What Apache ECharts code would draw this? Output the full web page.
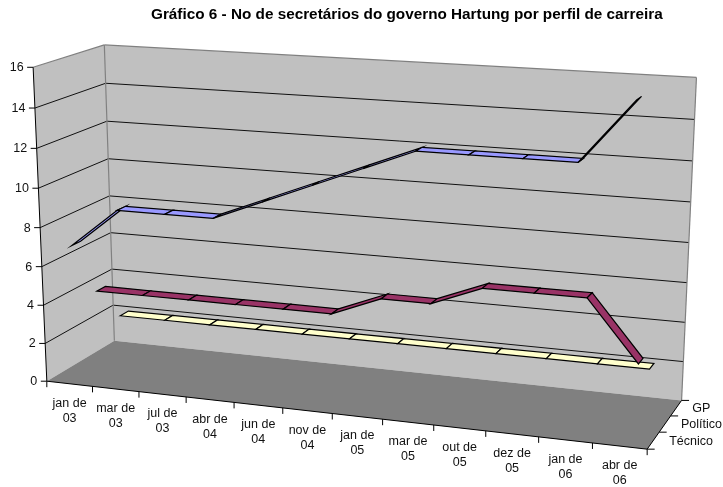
<!DOCTYPE html>
<html><head><meta charset="utf-8">
<style>html,body{margin:0;padding:0;background:#fff}#c{width:723px;height:487px}</style>
<script src="https://cdn.jsdelivr.net/npm/echarts@6/dist/echarts.min.js"></script>
</head><body><div id="c"></div>
<script>
const categories = ['jan de\n03','mar de\n03','jul de\n03','abr de\n04','jun de\n04','nov de\n04','jan de\n05','mar de\n05','out de\n05','dez de\n05','jan de\n06','abr de\n06'];
const depthLabels = ['Técnico','Político','GP'];
const valueTicks = [0,2,4,6,8,10,12,14,16];
const gp      = [7,9,9,9,10,11,12,13,13,13,13,16];
const politico= [4,4,4,4,4,4,5,5,6,6,6,3];
const tecnico = [2,2,2,2,2,2,2,2,2,2,2,2];
const titleText = 'Gráfico 6 - No de secretários do governo Hartung por perfil de carreira';

const FONT = '"Liberation Sans", Arial, sans-serif';
const W = 723, H = 487;
// camera calibration: (u,v,w) box corners -> picture position
const calib = [
 [0,0,0,47,381.5],[0,1,0,33,67],[0,0,1,114,341],[0,1,1,104,45],
 [1,0,0,647.3,449.3],[1,0,1,682,400],[1,1,1,696.7,77.7],
 [0,.5,0,40.5,227.7],[0,.5,1,110,195.7],[1,.5,1,688.3,242.7],[.5,0,0,331.7,413.3]
];
function solveCamera(){
  const A=[],b=[];
  calib.forEach(([u,v,w,x,y])=>{
    A.push([u,v,w,1,0,0,0,0,-x*u,-x*v,-x*w]);b.push(x);
    A.push([0,0,0,0,u,v,w,1,-y*u,-y*v,-y*w]);b.push(y);
  });
  const n=11,M=[];
  for(let i=0;i<n;i++){M.push([]);for(let j=0;j<=n;j++){let s=0;for(let r=0;r<A.length;r++)s+=A[r][i]*(j<n?A[r][j]:b[r]);M[i].push(s);}}
  for(let i=0;i<n;i++){
    let p=i;for(let r=i+1;r<n;r++)if(Math.abs(M[r][i])>Math.abs(M[p][i]))p=r;
    [M[i],M[p]]=[M[p],M[i]];
    for(let r=0;r<n;r++){if(r===i)continue;const f=M[r][i]/M[i][i];for(let c=i;c<=n;c++)M[r][c]-=f*M[i][c];}
  }
  return M.map((r,i)=>r[n]/r[i]);
}
const K = solveCamera();
function cam(u,v,w){
  const d=K[8]*u+K[9]*v+K[10]*w+1;
  return [(K[0]*u+K[1]*v+K[2]*w+K[3])/d,(K[4]*u+K[5]*v+K[6]*w+K[7])/d];
}
// category position + value through the chart's scales, depth in 0..1
function P(api,cat,val,w){
  const base=api.coord([0,val]);
  const band=api.size([1,0])[0];
  const u=(base[0]+cat*band)/W, v=1-base[1]/H;
  return cam(u,v,w);
}
const X0=-0.5,X1=categories.length-0.5,VMAX=valueTicks[valueTicks.length-1];
const poly=(pts,fill,stroke,lw)=>({type:'polygon',shape:{points:pts},style:{fill:fill,stroke:stroke||null,lineWidth:lw||0}});
const line=(a,b,c,lw)=>({type:'line',shape:{x1:a[0],y1:a[1],x2:b[0],y2:b[1]},style:{stroke:c,lineWidth:lw||1,fill:null}});
const text=(t,x,y,align,vb,size,lh)=>({type:'text',style:{text:t,x:x,y:y,align:align,verticalAlign:vb,font:size+'px '+FONT,fill:'#111',lineHeight:lh||size}});

function renderFrame(params,api){
  const kids=[];
  const p=(c,v,w)=>P(api,c,v,w);
  kids.push(poly([p(X0,0,0),p(X0,VMAX,0),p(X0,VMAX,1),p(X0,0,1)],'#C0C0C0'));
  kids.push(poly([p(X0,0,1),p(X0,VMAX,1),p(X1,VMAX,1),p(X1,0,1)],'#C0C0C0'));
  kids.push(poly([p(X0,0,0),p(X0,0,1),p(X1,0,1),p(X1,0,0)],'#808080'));
  valueTicks.forEach(t=>{
    if(t>0&&t<VMAX){
      kids.push(line(p(X0,t,0),p(X0,t,1),'#111'));
      kids.push(line(p(X0,t,1),p(X1,t,1),'#111'));
    }
  });
  // wall edges
  kids.push(line(p(X0,VMAX,0),p(X0,VMAX,1),'#808080',1.2));
  kids.push(line(p(X0,VMAX,1),p(X1,VMAX,1),'#808080',1.2));
  kids.push(line(p(X0,0,1),p(X0,VMAX,1),'#808080',1.2));
  kids.push(line(p(X1,0,1),p(X1,VMAX,1),'#808080',1.2));
  // axes
  kids.push(line(p(X0,0,0),p(X0,VMAX,0),'#000'));
  kids.push(line(p(X0,0,0),p(X1,0,0),'#000'));
  kids.push(line(p(X1,0,0),p(X1,0,1),'#000'));
  valueTicks.forEach(t=>{
    const a=p(X0,t,0);
    kids.push(line([a[0]-6,a[1]],a,'#000'));
    kids.push(text(String(t),a[0]-9.5,a[1]+0.5,'right','middle',12.5));
  });
  for(let i=0;i<=categories.length;i++){
    const a=p(X0+i,0,0);
    kids.push(line(a,[a[0],a[1]+6],'#000'));
  }
  categories.forEach((c,i)=>{
    const a=p(i,0,0);
    kids.push(text(c,a[0],a[1]+27,'center','middle',12.5,15));
  });
  const nd=depthLabels.length;
  for(let k=0;k<=nd;k++){
    const a=p(X1,0,k/nd);
    kids.push(line(a,[a[0]+7.5,a[1]],'#000'));
  }
  depthLabels.forEach((d,k)=>{
    const a=p(X1,0,(k+.5)/nd);
    kids.push(text(d,a[0]+16,a[1]+0.5,'left','middle',12.5));
  });
  return {type:'group',children:kids};
}
const RIBBON=0.127;
function ribbonSeries(name,vals,depthIndex,color){
  const wc=(depthIndex+.5)/3, w0=wc-RIBBON/2, w1=wc+RIBBON/2;
  return {
    type:'custom',name:name,coordinateSystem:'cartesian2d',z:3+(2-depthIndex),silent:true,
    encode:{x:0,y:1},
    data:vals.map((v,i)=>[i,v]),
    renderItem(params,api){
      const i=api.value(0),v=api.value(1);
      if(i>=vals.length-1) return {type:'group',children:[]};
      const n=vals[i+1];
      return poly([P(api,i,v,w0),P(api,i+1,n,w0),P(api,i+1,n,w1),P(api,i,v,w1)],color,'#000',1.2);
    }
  };
}
const chart=echarts.init(document.getElementById('c'),null,{renderer:'canvas',width:W,height:H});
chart.setOption({
  animation:false,backgroundColor:'#fff',
  title:{text:titleText,left:151,top:7.5,padding:0,textStyle:{fontFamily:FONT,fontSize:15.3,fontWeight:'bold',color:'#000'}},
  grid:{left:0,right:0,top:0,bottom:0,containLabel:false},
  xAxis:{type:'category',data:categories,show:false},
  yAxis:{type:'value',min:0,max:VMAX,interval:2,show:false},
  series:[
    {type:'custom',name:'frame',coordinateSystem:'cartesian2d',z:1,silent:true,encode:{x:0,y:1},data:[[0,0]],renderItem:renderFrame},
    ribbonSeries('Técnico',tecnico,2,'#FFFFCC'),
    ribbonSeries('Político',politico,1,'#993366'),
    ribbonSeries('GP',gp,0,'#9999FF')
  ]
});
</script></body></html>
